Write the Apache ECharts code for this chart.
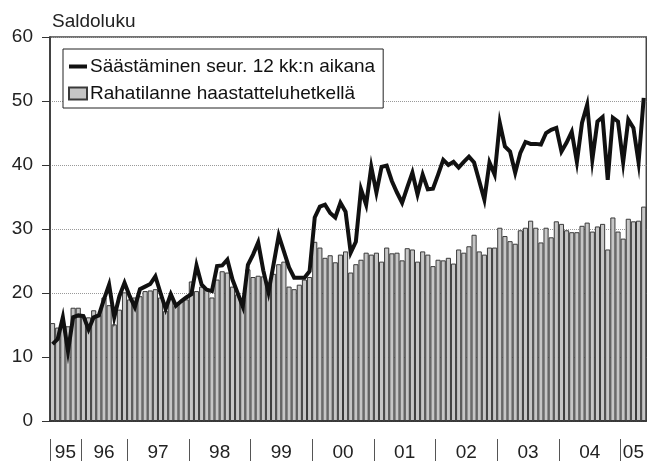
<!DOCTYPE html>
<html>
<head>
    <meta charset="UTF-8">
    <title>Saldoluku</title>
    <style>
        * {
            margin: 0;
            padding: 0
        }

        #chart {
            width: 647px;
            height: 462px;
        }
    </style>
</head>
<body>
<div id="chart"></div>
<script type="text/javascript" src="https://cdn.jsdelivr.net/npm/echarts@6/dist/echarts.min.js"></script>
<script type="text/javascript">
    // vuodet ja kuukausien lukumäärä per vuosi
    var yearLabels = ['95', '96', '97', '98', '99', '00', '01', '02', '03', '04', '05'];
    var yearCounts = [6, 9, 12, 12, 12, 12, 12, 12, 12, 12, 5];

    var lineName = 'Säästäminen seur. 12 kk:n aikana';
    var barName = 'Rahatilanne haastatteluhetkellä';

    // Säästäminen seur. 12 kk:n aikana
    var savingValues = [
        12.0, 12.8, 16.2, 10.9, 16.2, 16.5,
        16.4, 14.3, 16.2, 16.5, 19.0, 21.3, 16.2, 19.5, 21.6,
        19.5, 17.8, 20.6, 21.0, 21.4, 22.6, 20.0, 17.5, 19.8, 18.0, 18.7, 19.3,
        19.8, 24.3, 21.3, 20.5, 20.3, 24.2, 24.3, 25.2, 22.1, 20.0, 17.9, 24.4,
        26.0, 27.9, 23.5, 20.1, 24.5, 29.0, 26.5, 24.0, 22.4, 22.4, 22.4, 23.4,
        31.8, 33.5, 33.8, 32.5, 31.8, 34.1, 32.7, 26.3, 28.0, 36.2, 33.8, 39.7,
        35.7, 39.7, 39.9, 37.5, 35.7, 34.1, 36.5, 38.8, 35.4, 38.5, 36.2, 36.3,
        38.5, 40.8, 40.0, 40.5, 39.6, 40.5, 41.3, 40.4, 37.5, 34.6, 40.4, 38.5,
        46.6, 42.9, 42.1, 38.8, 41.9, 43.6, 43.3, 43.3, 43.2, 45.0, 45.5, 45.8,
        42.1, 43.5, 45.2, 40.5, 46.6, 49.4, 40.8, 46.8, 47.5, 37.7, 47.4, 46.8,
        40.4, 47.1, 45.8, 40.4, 50.5
    ];

    // Rahatilanne haastatteluhetkellä
    var moneyValues = [
        15.3, 14.6, 14.8, 14.8, 17.7, 17.7,
        16.3, 16.2, 17.3, 16.6, 19.3, 18.1, 15.1, 17.4, 20.1,
        19.0, 19.3, 19.5, 20.3, 20.4, 20.6, 19.3, 17.2, 19.3, 18.0, 18.7, 19.0,
        21.8, 20.3, 21.0, 20.6, 19.3, 22.1, 23.4, 23.2, 21.0, 19.8, 19.0, 23.7,
        22.5, 22.7, 22.6, 20.6, 23.0, 24.5, 24.9, 21.0, 20.6, 21.3, 22.1, 22.5,
        28.0, 27.1, 25.5, 25.9, 24.8, 26.0, 26.5, 23.2, 24.5, 25.2, 26.3, 26.0,
        26.3, 24.9, 27.1, 26.2, 26.3, 25.1, 27.0, 26.8, 24.9, 26.5, 26.0, 24.2,
        25.2, 25.1, 25.5, 24.6, 26.8, 26.3, 27.3, 29.1, 26.5, 26.0, 27.1, 27.1,
        30.2, 28.9, 28.1, 27.7, 29.8, 30.2, 31.3, 30.2, 27.9, 30.2, 28.7, 31.2,
        30.8, 29.8, 29.5, 29.5, 30.5, 31.0, 29.6, 30.4, 30.8, 26.8, 31.8, 29.6,
        28.5, 31.6, 31.2, 31.3, 33.5
    ];

    var yTicks = [0, 10, 20, 30, 40, 50, 60];

    //kuukausikategoriat, vuosien rajat ja nimien paikat
    var months = [], bounds = [], mids = [], start = 0;
    for (var y = 0; y < yearLabels.length; y++) {
        bounds.push(start);
        mids.push(start + yearCounts[y] / 2);
        for (var m = 0; m < yearCounts[y]; m++) {
            months.push(yearLabels[y] + '-' + (m + 1));
        }
        start += yearCounts[y];
    }

    var font = '"Liberation Sans", Arial, sans-serif';
    var myChart = echarts.init(document.getElementById('chart'));

    var option = {
        animation: false,
        backgroundColor: '#fff',
        textStyle: {fontFamily: font, color: '#222'},
        grid: {
            left: 50,
            right: 0,
            top: 37,
            bottom: 40,
            show: true,
            borderColor: '#444',
            borderWidth: 1.5
        },
        legend: {
            orient: 'vertical',
            left: 63,
            top: 49,
            padding: [8, 8, 5, 5],
            itemGap: 8,
            itemWidth: 18,
            itemHeight: 12,
            symbolKeepAspect: true,
            backgroundColor: '#fff',
            borderColor: '#222',
            borderWidth: 1,
            borderRadius: 0,
            textStyle: {fontSize: 19, lineHeight: 19, color: '#111', fontFamily: font, padding: [0, 0, 0, -2]},
            data: [
                //paksu viiva ilman pistettä
                {name: lineName, icon: 'path://M0,0L18,0L18,4L0,4Z'},
                {name: barName, icon: 'rect'}
            ]
        },
        xAxis: [{
            type: 'category',
            data: months,
            boundaryGap: true,
            axisLine: {lineStyle: {color: '#222', width: 1.5}},
            axisTick: {show: false},
            axisLabel: {show: false},
            splitLine: {show: false}
        }, {
            // vuosien erottimet ja nimet
            type: 'value',
            min: 0,
            max: months.length,
            position: 'bottom',
            offset: 18,
            axisLine: {show: false},
            splitLine: {show: false},
            axisTick: {
                show: true,
                customValues: bounds,
                length: 22,
                lineStyle: {color: '#555', width: 1}
            },
            axisLabel: {
                customValues: mids,
                margin: 4,
                fontSize: 19,
                color: '#222',
                formatter: function (v) {
                    var i = mids.indexOf(v);
                    return i >= 0 ? yearLabels[i] : '';
                }
            }
        }],
        yAxis: {
            type: 'value',
            min: yTicks[0],
            max: yTicks[yTicks.length - 1],
            interval: 10,
            name: 'Saldoluku',
            nameLocation: 'end',
            nameGap: 6,
            nameTextStyle: {fontSize: 19, align: 'left', color: '#222', padding: [0, 0, 0, 2]},
            axisLine: {show: true, lineStyle: {color: '#333', width: 1.5}},
            axisTick: {show: true, length: 8, lineStyle: {color: '#333'}},
            axisLabel: {fontSize: 19, margin: 17, color: '#222'},
            splitLine: {lineStyle: {type: 'dotted', color: '#999', width: 1}}
        },
        series: [{
            name: barName,
            type: 'bar',
            data: moneyValues,
            barCategoryGap: '0%',
            itemStyle: {
                color: '#c6c6c6',
                borderColor: '#3a3a3a',
                borderWidth: 1
            },
            z: 2
        }, {
            name: lineName,
            type: 'line',
            data: savingValues,
            symbol: 'none',
            lineStyle: {color: '#111', width: 4, join: 'miter'},
            itemStyle: {color: '#111'},
            z: 3
        }]
    };

    myChart.setOption(option);
</script>
</body>
</html>
